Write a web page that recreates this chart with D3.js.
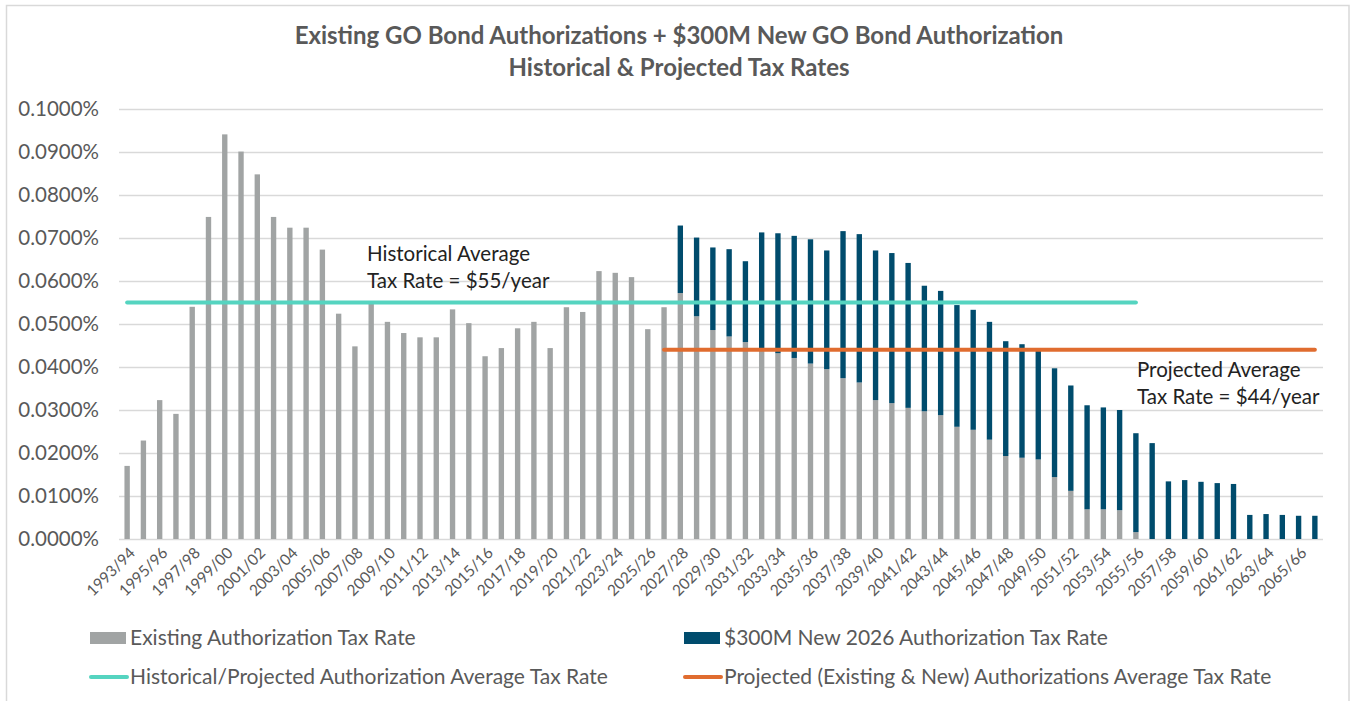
<!DOCTYPE html>
<html>
<head>
<meta charset="utf-8">
<script src="https://cdn.jsdelivr.net/npm/d3@7"></script>
<style>
  html, body { margin: 0; padding: 0; background: #fff; }
  svg { display: block; font-family: Lato, "Open Sans", sans-serif; }
</style>
</head>
<body>
<svg id="chart" width="1351" height="701"></svg>
<script>
const categories = [
  "1993/94","1994/95","1995/96","1996/97","1997/98","1998/99","1999/00","2000/01","2001/02","2002/03",
  "2003/04","2004/05","2005/06","2006/07","2007/08","2008/09","2009/10","2010/11","2011/12","2012/13",
  "2013/14","2014/15","2015/16","2016/17","2017/18","2018/19","2019/20","2020/21","2021/22","2022/23",
  "2023/24","2024/25","2025/26","2026/27","2027/28","2028/29","2029/30","2030/31","2031/32","2032/33",
  "2033/34","2034/35","2035/36","2036/37","2037/38","2038/39","2039/40","2040/41","2041/42","2042/43",
  "2043/44","2044/45","2045/46","2046/47","2047/48","2048/49","2049/50","2050/51","2051/52","2052/53",
  "2053/54","2054/55","2055/56","2056/57","2057/58","2058/59","2059/60","2060/61","2061/62","2062/63",
  "2063/64","2064/65","2065/66","2066/67"
];

// Existing Authorization Tax Rate (%)
const existingRate = [
  0.0170,0.0229,0.0323,0.0291,0.0540,0.0749,0.0941,0.0901,0.0848,0.0749,
  0.0724,0.0724,0.0673,0.0524,0.0448,0.0548,0.0505,0.0479,0.0469,0.0469,
  0.0534,0.0502,0.0425,0.0444,0.0490,0.0505,0.0444,0.0539,0.0528,0.0623,
  0.0619,0.0609,0.0488,0.0539,0.0572,0.0518,0.0486,0.0471,0.0458,0.0437,
  0.0432,0.0421,0.0408,0.0395,0.0374,0.0364,0.0323,0.0316,0.0305,0.0297,
  0.0288,0.0261,0.0254,0.0231,0.0193,0.0189,0.0185,0.0144,0.0112,0.0069,
  0.0069,0.0067,0.0016,0,0,0,0,0,0,0,
  0,0,0,0
];

// $300M New 2026 Authorization Tax Rate (%)
const newRate = [
  0,0,0,0,0,0,0,0,0,0,
  0,0,0,0,0,0,0,0,0,0,
  0,0,0,0,0,0,0,0,0,0,
  0,0,0,0,0.0157,0.0183,0.0192,0.0203,0.0188,0.0276,
  0.0279,0.0284,0.0289,0.0276,0.0342,0.0345,0.0348,0.0349,0.0337,0.0292,
  0.0289,0.0283,0.0279,0.0274,0.0267,0.0264,0.0255,0.0253,0.0245,0.0242,
  0.0237,0.0233,0.0230,0.0223,0.0134,0.0137,0.0133,0.0130,0.0128,0.0056,
  0.0058,0.0056,0.0054,0.0054
];

const historicalAvg = { value: 0.0550, from: "1993/94", to: "2055/56" };
const projectedAvg  = { value: 0.0440, from: "2026/27", to: "2066/67" };

const yTicks = [0, 0.01, 0.02, 0.03, 0.04, 0.05, 0.06, 0.07, 0.08, 0.09, 0.10];

const titleLines = ["Existing GO Bond Authorizations + $300M New GO Bond Authorization",
                    "Historical & Projected Tax Rates"];
const seriesNames = ["Existing Authorization Tax Rate", "$300M New 2026 Authorization Tax Rate",
                     "Historical/Projected Authorization Average Tax Rate",
                     "Projected (Existing & New) Authorizations Average Tax Rate"];

const C = { grey: "#A1A4A4", blue: "#004C6D", teal: "#55D4C0", orange: "#E06C2F", text: "#595959", grid: "#D9D9D9" };

const svg = d3.select("#chart");

// border
svg.append("rect").attr("x", 6.5).attr("y", 5.5).attr("width", 1342.5).attr("height", 700)
  .attr("fill", "none").attr("stroke", C.grid).attr("stroke-width", 1.5);

const plotL = 119, plotR = 1323, plotT = 109, plotB = 539;
const x = d3.scaleBand().domain(categories).range([plotL, plotR]).paddingInner(0.67).paddingOuter(0.335);
const y = d3.scaleLinear().domain([0, 0.1]).range([plotB, plotT]);

// title
svg.append("g").selectAll("text").data(titleLines).join("text")
  .attr("x", 679).attr("y", (d, i) => 44 + i * 32)
  .attr("text-anchor", "middle").attr("fill", C.text)
  .attr("font-size", 24).attr("font-weight", "bold").text(d => d);

// grid
svg.append("g").selectAll("line").data(yTicks).join("line")
  .attr("x1", plotL).attr("x2", plotR)
  .attr("y1", d => Math.round(y(d)) + 0.5).attr("y2", d => Math.round(y(d)) + 0.5)
  .attr("stroke", C.grid).attr("stroke-width", 1.5);

// y axis
const yAxis = d3.axisLeft(y).tickValues(yTicks).tickSize(0).tickPadding(0)
  .tickFormat(d => d.toFixed(4) + "%");
const yg = svg.append("g").attr("transform", `translate(99,0)`).call(yAxis);
yg.select(".domain").remove();
yg.selectAll("text").attr("fill", C.text).attr("font-size", 20.5).attr("font-family", "Lato, sans-serif");

// x axis
const xAxis = d3.axisBottom(x).tickValues(categories.filter((d, i) => i % 2 === 0)).tickSize(0).tickPadding(0);
const xg = svg.append("g").attr("transform", `translate(0,${plotB})`).call(xAxis);
xg.select(".domain").remove();
xg.selectAll("text")
  .attr("fill", C.text).attr("font-size", 15.5).attr("font-family", "Lato, sans-serif")
  .attr("text-anchor", "end").attr("dy", null)
  .attr("transform", "translate(9,15) rotate(-45)");

// bars
const bw = x.bandwidth();
svg.append("g").selectAll("rect").data(categories).join("rect")
  .attr("x", d => x(d)).attr("width", bw)
  .attr("y", (d, i) => y(existingRate[i])).attr("height", (d, i) => y(0) - y(existingRate[i]))
  .attr("fill", C.grey);
svg.append("g").selectAll("rect").data(categories).join("rect")
  .attr("x", d => x(d)).attr("width", bw)
  .attr("y", (d, i) => y(existingRate[i] + newRate[i]))
  .attr("height", (d, i) => y(existingRate[i]) - y(existingRate[i] + newRate[i]))
  .attr("fill", C.blue);

// average lines
const cx = d => x(d) + bw / 2;
[[historicalAvg, C.teal], [projectedAvg, C.orange]].forEach(([a, col]) => {
  svg.append("line")
    .attr("x1", cx(a.from)).attr("x2", cx(a.to))
    .attr("y1", y(a.value)).attr("y2", y(a.value))
    .attr("stroke", col).attr("stroke-width", 4).attr("stroke-linecap", "round");
});

// annotations
const ann = [
  { x: 367, y: 261, lines: ["Historical Average", "Tax Rate = $55/year"] },
  { x: 1137, y: 377, lines: ["Projected Average", "Tax Rate = $44/year"] }
];
ann.forEach(a => {
  svg.append("g").selectAll("text").data(a.lines).join("text")
    .attr("x", a.x).attr("y", (d, i) => a.y + i * 27)
    .attr("fill", "#222").attr("font-size", 20.5).text(d => d);
});

// legend
const legend = [
  { name: seriesNames[0], type: "rect", color: C.grey, x: 90, y: 638 },
  { name: seriesNames[1], type: "rect", color: C.blue, x: 684, y: 638 },
  { name: seriesNames[2], type: "line", color: C.teal, x: 90, y: 677 },
  { name: seriesNames[3], type: "line", color: C.orange, x: 684, y: 677 }
];
legend.forEach(l => {
  const g = svg.append("g").attr("transform", `translate(${l.x},${l.y})`);
  if (l.type === "rect") {
    g.append("rect").attr("x", 0).attr("y", -6).attr("width", 36).attr("height", 12).attr("fill", l.color);
  } else {
    g.append("line").attr("x1", 1).attr("x2", 37).attr("y1", 0).attr("y2", 0)
      .attr("stroke", l.color).attr("stroke-width", 4).attr("stroke-linecap", "round");
  }
  g.append("text").attr("x", 40).attr("y", 0).attr("dy", "0.35em")
    .attr("fill", C.text).attr("font-size", 21).text(l.name);
});
</script>
</body>
</html>
